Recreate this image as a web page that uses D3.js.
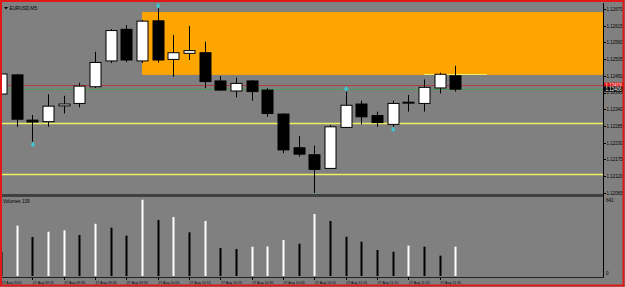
<!DOCTYPE html>
<meta charset='utf-8'>
<style>
body { margin: 0; background: #fff; }
text { font-family: 'Liberation Sans', Arial, sans-serif; }
.wick { stroke: #000; stroke-width: 1px; }
.axis path, .axis line { stroke: #000; shape-rendering: crispEdges; }
.axis text { fill: #000; }
</style>
<body>
<script src='https://d3js.org/d3.v7.min.js'></script>
<script>
// EURUSD M5, 27 Aug 2015
var opens  = [1.12390,1.12453,1.12304,1.12299,1.12351,1.12359,1.12414,1.12499,1.12603,1.12499,1.12631,1.12504,1.12524,1.12526,1.12433,1.12400,1.12433,1.12403,1.12324,1.12213,1.12190,1.12145,1.12280,1.12357,1.12319,1.12290,1.12362,1.12359,1.12410,1.12450];
var highs  = [1.12466,1.12455,1.12321,1.12389,1.12384,1.12427,1.12529,1.12604,1.12617,1.12634,1.12672,1.12584,1.12614,1.12562,1.12449,1.12444,1.12436,1.12409,1.12326,1.12252,1.12220,1.12288,1.12398,1.12368,1.12332,1.12368,1.12387,1.12438,1.12460,1.12483];
var lows   = [1.12380,1.12282,1.12233,1.12282,1.12326,1.12346,1.12410,1.12492,1.12495,1.12492,1.12493,1.12447,1.12502,1.12409,1.12401,1.12379,1.12368,1.12315,1.12195,1.12184,1.12064,1.12143,1.12278,1.12290,1.12282,1.12282,1.12332,1.12332,1.12392,1.12398];
var closes = [1.12456,1.12307,1.12298,1.12350,1.12357,1.12416,1.12494,1.12599,1.12502,1.12630,1.12502,1.12526,1.12533,1.12431,1.12403,1.12425,1.12398,1.12326,1.12206,1.12192,1.12142,1.12282,1.12353,1.12315,1.12296,1.12359,1.12363,1.12412,1.12455,1.12406];
var volumes = [204,423,328,372,384,344,439,406,339,641,470,496,367,462,235,227,246,248,302,271,521,462,330,288,218,204,255,246,171,246];

var fractalUp = [10, 22];
var fractalDown = [2, 20, 25];

var priceTicks = [1.12670,1.12615,1.12560,1.12505,1.12450,1.12395,1.12340,1.12285,1.12230,1.12175,1.12120,1.12065];
var timeTickBars = [0,2,4,6,8,10,12,14,16,18,20,22,24,26,28];
var timeLabels = ['27 Aug 2015','27 Aug 09:25','27 Aug 09:35','27 Aug 09:45','27 Aug 09:55','27 Aug 10:05','27 Aug 10:15','27 Aug 10:25','27 Aug 10:35','27 Aug 10:45','27 Aug 10:55','27 Aug 11:05','27 Aug 11:15','27 Aug 11:25','27 Aug 11:35'];

var askPrice = 1.12419, bidPrice = 1.12406;
var supportLevels = [1.12295, 1.12127];
var zoneTop = 1.12660, zoneBottom = 1.12453, zoneStartBar = 9;
var shortLine = {from: 27, to: 31, price: 1.12456};
var volumeMax = 641;

var W = 625, H = 287;
var left = 2, axisX = 603;
var priceTop = 3, priceBottom = 194;
var volTop = 197, volBottom = 277;

var svg = d3.select('body').append('svg')
  .attr('width', W).attr('height', H);

svg.append('rect').attr('width', W).attr('height', H).attr('fill', '#808080');

var x = d3.scaleLinear().domain([0, 38]).range([1, 1 + 15.67 * 38]);
var y = d3.scaleLinear().domain([1.12065, 1.12670]).range([192.7, 9]);
var yv = d3.scaleLinear().domain([0, volumeMax]).range([276, 199.7]);

var defs = svg.append('defs');
defs.append('clipPath').attr('id', 'pclip').append('rect')
  .attr('x', left).attr('y', priceTop).attr('width', axisX - left).attr('height', priceBottom - priceTop);
defs.append('clipPath').attr('id', 'vclip').append('rect')
  .attr('x', left).attr('y', volTop).attr('width', axisX - left).attr('height', volBottom - volTop);

var pane = svg.append('g').attr('clip-path', 'url(#pclip)');

// supply zone
pane.append('rect')
  .attr('x', x(zoneStartBar)).attr('y', y(zoneTop))
  .attr('width', axisX - x(zoneStartBar)).attr('height', y(zoneBottom) - y(zoneTop))
  .attr('fill', '#ffa500');

pane.append('line')
  .attr('x1', x(shortLine.from)).attr('x2', x(shortLine.to))
  .attr('y1', Math.round(y(shortLine.price)) + 0.5).attr('y2', Math.round(y(shortLine.price)) + 0.5)
  .attr('stroke', '#f0f060').attr('stroke-width', 1);

// horizontal levels
pane.selectAll('.lvl').data(supportLevels).enter().append('line')
  .attr('x1', left).attr('x2', axisX)
  .attr('y1', function(d) { return Math.round(y(d)) + 0.5; })
  .attr('y2', function(d) { return Math.round(y(d)) + 0.5; })
  .attr('stroke', '#f0f060').attr('stroke-width', 1.3);

pane.append('line').attr('x1', left).attr('x2', axisX)
  .attr('y1', Math.round(y(askPrice)) + 0.5).attr('y2', Math.round(y(askPrice)) + 0.5)
  .attr('stroke', '#b04040').attr('stroke-width', 1);
pane.append('line').attr('x1', left).attr('x2', axisX)
  .attr('y1', Math.round(y(bidPrice)) + 0.5).attr('y2', Math.round(y(bidPrice)) + 0.5)
  .attr('stroke', '#4a9a55').attr('stroke-width', 1);

// candles
var idx = d3.range(opens.length);
pane.selectAll('.wick').data(idx).enter().append('line')
  .attr('class', 'wick')
  .attr('x1', function(i) { return Math.round(x(i)) + 0.5; })
  .attr('x2', function(i) { return Math.round(x(i)) + 0.5; })
  .attr('y1', function(i) { return y(highs[i]); })
  .attr('y2', function(i) { return y(lows[i]); });

pane.selectAll('.body').data(idx).enter().append('rect')
  .attr('x', function(i) { return Math.round(x(i)) - 5; })
  .attr('width', 11)
  .attr('y', function(i) { return y(Math.max(opens[i], closes[i])); })
  .attr('height', function(i) { return Math.max(1, Math.abs(y(opens[i]) - y(closes[i]))); })
  .attr('fill', function(i) { return closes[i] >= opens[i] ? '#fff' : '#000'; })
  .attr('stroke', '#000').attr('stroke-width', 1);

// fractal arrows
var arrowColor = '#3cc8d2';
pane.selectAll('.fu').data(fractalUp).enter().append('path')
  .attr('d', function(i) {
    var cx = x(i) + 0.5, cy = y(highs[i]) - 3;
    return 'M' + cx + ',' + (cy - 2.5) + 'L' + (cx + 2.5) + ',' + (cy + 1) + 'L' + (cx + 1) + ',' + (cy + 1) + 'L' + (cx + 1) + ',' + (cy + 2.5) + 'L' + (cx - 1) + ',' + (cy + 2.5) + 'L' + (cx - 1) + ',' + (cy + 1) + 'L' + (cx - 2.5) + ',' + (cy + 1) + 'Z';
  })
  .attr('fill', arrowColor);
pane.selectAll('.fd').data(fractalDown).enter().append('path')
  .attr('d', function(i) {
    var cx = x(i) + 0.5, cy = y(lows[i]) + 3;
    return 'M' + cx + ',' + (cy + 2.5) + 'L' + (cx + 2.5) + ',' + (cy - 1) + 'L' + (cx + 1) + ',' + (cy - 1) + 'L' + (cx + 1) + ',' + (cy - 2.5) + 'L' + (cx - 1) + ',' + (cy - 2.5) + 'L' + (cx - 1) + ',' + (cy - 1) + 'L' + (cx - 2.5) + ',' + (cy - 1) + 'Z';
  })
  .attr('fill', arrowColor);

// title
svg.append('path').attr('d', 'M4,7L8,7L6,9.5Z').attr('fill', '#000');
svg.append('text').attr('x', 9.5).attr('y', 10).style('font-size', '4.7px').text('EURUSD,M5');

// pane separator
svg.append('rect').attr('x', left).attr('y', 194).attr('width', axisX - left).attr('height', 3).attr('fill', '#404040');

// volumes
var vpane = svg.append('g').attr('clip-path', 'url(#vclip)');
vpane.selectAll('.vol').data(idx).enter().append('rect')
  .attr('x', function(i) { return Math.round(x(i)) - 0.5; })
  .attr('width', 2)
  .attr('y', function(i) { return yv(volumes[i]); })
  .attr('height', function(i) { return yv(0) - yv(volumes[i]); })
  .attr('fill', function(i) { return i > 0 && volumes[i] > volumes[i - 1] ? '#fff' : '#000'; });

svg.append('text').attr('x', 3).attr('y', 203).style('font-size', '4.6px').text('Volumes 139');

// right price axis
var pAxis = svg.append('g').attr('class', 'axis')
  .attr('transform', 'translate(' + (axisX + 0.5) + ',0)')
  .call(d3.axisRight(y).tickValues(priceTicks).tickSize(2).tickPadding(1).tickFormat(d3.format('.5f')));
pAxis.select('.domain').remove();
pAxis.selectAll('text').style('font-size', '4.5px').attr('font-family', 'Liberation Serif');

svg.append('line').attr('x1', axisX + 0.5).attr('x2', axisX + 0.5).attr('y1', priceTop).attr('y2', volBottom)
  .attr('stroke', '#000');

// price boxes
function priceBox(p, color) {
  var cy = y(p);
  svg.append('rect').attr('x', axisX + 1).attr('y', cy - 2.6).attr('width', 19).attr('height', 5.2).attr('fill', color);
  svg.append('text').attr('x', axisX + 2.5).attr('y', cy + 1.7).attr('fill', '#fff')
    .style('font-size', '4.5px').attr('font-family', 'Liberation Serif').text(d3.format('.5f')(p));
}
priceBox(askPrice, '#e01010');
priceBox(bidPrice, '#000');

// volume axis labels
svg.append('text').attr('x', axisX + 3).attr('y', 201.5).style('font-size', '4.6px').attr('font-family', 'Liberation Serif').text(volumeMax);
svg.append('text').attr('x', axisX + 3).attr('y', 275).style('font-size', '4.6px').attr('font-family', 'Liberation Serif').text('0');

// bottom time axis
svg.append('line').attr('x1', left).attr('x2', axisX + 1).attr('y1', volBottom + 0.5).attr('y2', volBottom + 0.5)
  .attr('stroke', '#222');
var tAxis = svg.append('g').attr('class', 'axis')
  .attr('transform', 'translate(0,' + (volBottom + 0.5) + ')')
  .call(d3.axisBottom(x).tickValues(timeTickBars).tickSize(2).tickPadding(1)
    .tickFormat(function(d, k) { return timeLabels[k]; }));
tAxis.select('.domain').remove();
tAxis.selectAll('text').attr('text-anchor', 'start').attr('dy', '0.9em')
  .style('font-size', '3.6px').attr('font-family', 'Liberation Serif');

// window border
svg.append('rect').attr('x', 1).attr('y', 1).attr('width', W - 2.5).attr('height', H - 2.5)
  .attr('fill', 'none').attr('stroke', '#e01818').attr('stroke-width', 2);
</script>
</body>
